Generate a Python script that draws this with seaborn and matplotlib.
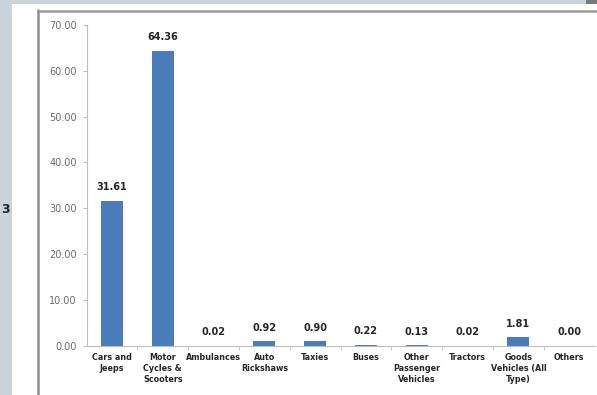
import matplotlib
matplotlib.use("Agg")
import matplotlib.pyplot as plt
from matplotlib.patches import Rectangle
from matplotlib.lines import Line2D
from matplotlib.ticker import FormatStrFormatter, FixedLocator
import seaborn as sns
import pandas as pd
import numpy as np

# Share of registered vehicles by type (%)
categories = ["Cars and\nJeeps", "Motor\nCycles &\nScooters", "Ambulances",
              "Auto\nRickshaws", "Taxies", "Buses", "Other\nPassenger\nVehicles",
              "Tractors", "Goods\nVehicles (All\nType)", "Others"]
shares = [31.61, 64.36, 0.02, 0.92, 0.90, 0.22, 0.13, 0.02, 1.81, 0.00]
y_ticks = [0, 10, 20, 30, 40, 50, 60, 70]

sns.set_style("white")
plt.rcParams['font.family'] = ['DejaVu Sans']

df = pd.DataFrame({"Vehicle": categories, "Share": shares})

fig = plt.figure(figsize=(5.97, 3.95), dpi=100, facecolor="#c9d3d9")

# white page panel and chart frame (drawn behind the axes)
fig.patches.append(Rectangle((12 / 597, 0), 1, 1 - 4 / 395, transform=fig.transFigure,
                             facecolor="white", edgecolor="none", zorder=-5))
fig.patches.append(Rectangle((586 / 597, 1 - 4 / 395), 11 / 597, 4 / 395,
                             transform=fig.transFigure, facecolor="#7a7a7a",
                             edgecolor="none", zorder=-5))
fig.lines.append(Line2D([38 / 597, 38 / 597], [0, 1 - 10 / 395], transform=fig.transFigure,
                        color="#8f8f8f", lw=1.8, zorder=-4))
fig.lines.append(Line2D([38 / 597, 1], [1 - 10.5 / 395, 1 - 10.5 / 395],
                        transform=fig.transFigure, color="#9a9a9a", lw=1.8, zorder=-4))
fig.text(1 / 597, 1 - 209 / 395, "3", fontsize=9, ha="left", va="center",
         color="#222222", fontweight="bold")

ax = fig.add_axes([86.6 / 597, 1 - 345.6 / 395, 508 / 597, 320.6 / 395])
ax.set_facecolor("none")
ax.set_zorder(2)

sns.barplot(data=df, x="Vehicle", y="Share", color="#4a7cba", width=0.43,
            saturation=1, linewidth=0, ax=ax)

for i, v in enumerate(shares):
    ax.annotate(f"{v:.2f}", (i, v), xytext=(0, 6), textcoords="offset points",
                ha="center", va="bottom", fontsize=7, fontweight="bold", color="#262626")

ax.set_ylim(0, 70)
ax.set_xlim(-0.5, len(categories) - 0.5)
ax.set_yticks(y_ticks)
ax.yaxis.set_major_formatter(FormatStrFormatter("%.2f"))
ax.set_xlabel("")
ax.set_ylabel("")

for side in ["top", "right"]:
    ax.spines[side].set_visible(False)
ax.spines["left"].set_color("#bdbdbd")
ax.spines["bottom"].set_color("#bdbdbd")

ax.tick_params(axis="y", direction="out", length=3, color="#bdbdbd", labelsize=7,
               labelcolor="#6b6b6b", pad=4, left=True)
ax.tick_params(axis="x", length=0, labelsize=5.8, labelcolor="#262626", pad=5)
ax.xaxis.set_minor_locator(FixedLocator(np.arange(0.5, len(categories) - 0.5, 1)))
ax.tick_params(axis="x", which="minor", direction="out", length=3, color="#bdbdbd",
               bottom=True)
for lbl in ax.get_xticklabels():
    lbl.set_linespacing(1.35)
    lbl.set_fontweight("bold")

fig.savefig("out.png", dpi=100, facecolor=fig.get_facecolor())
